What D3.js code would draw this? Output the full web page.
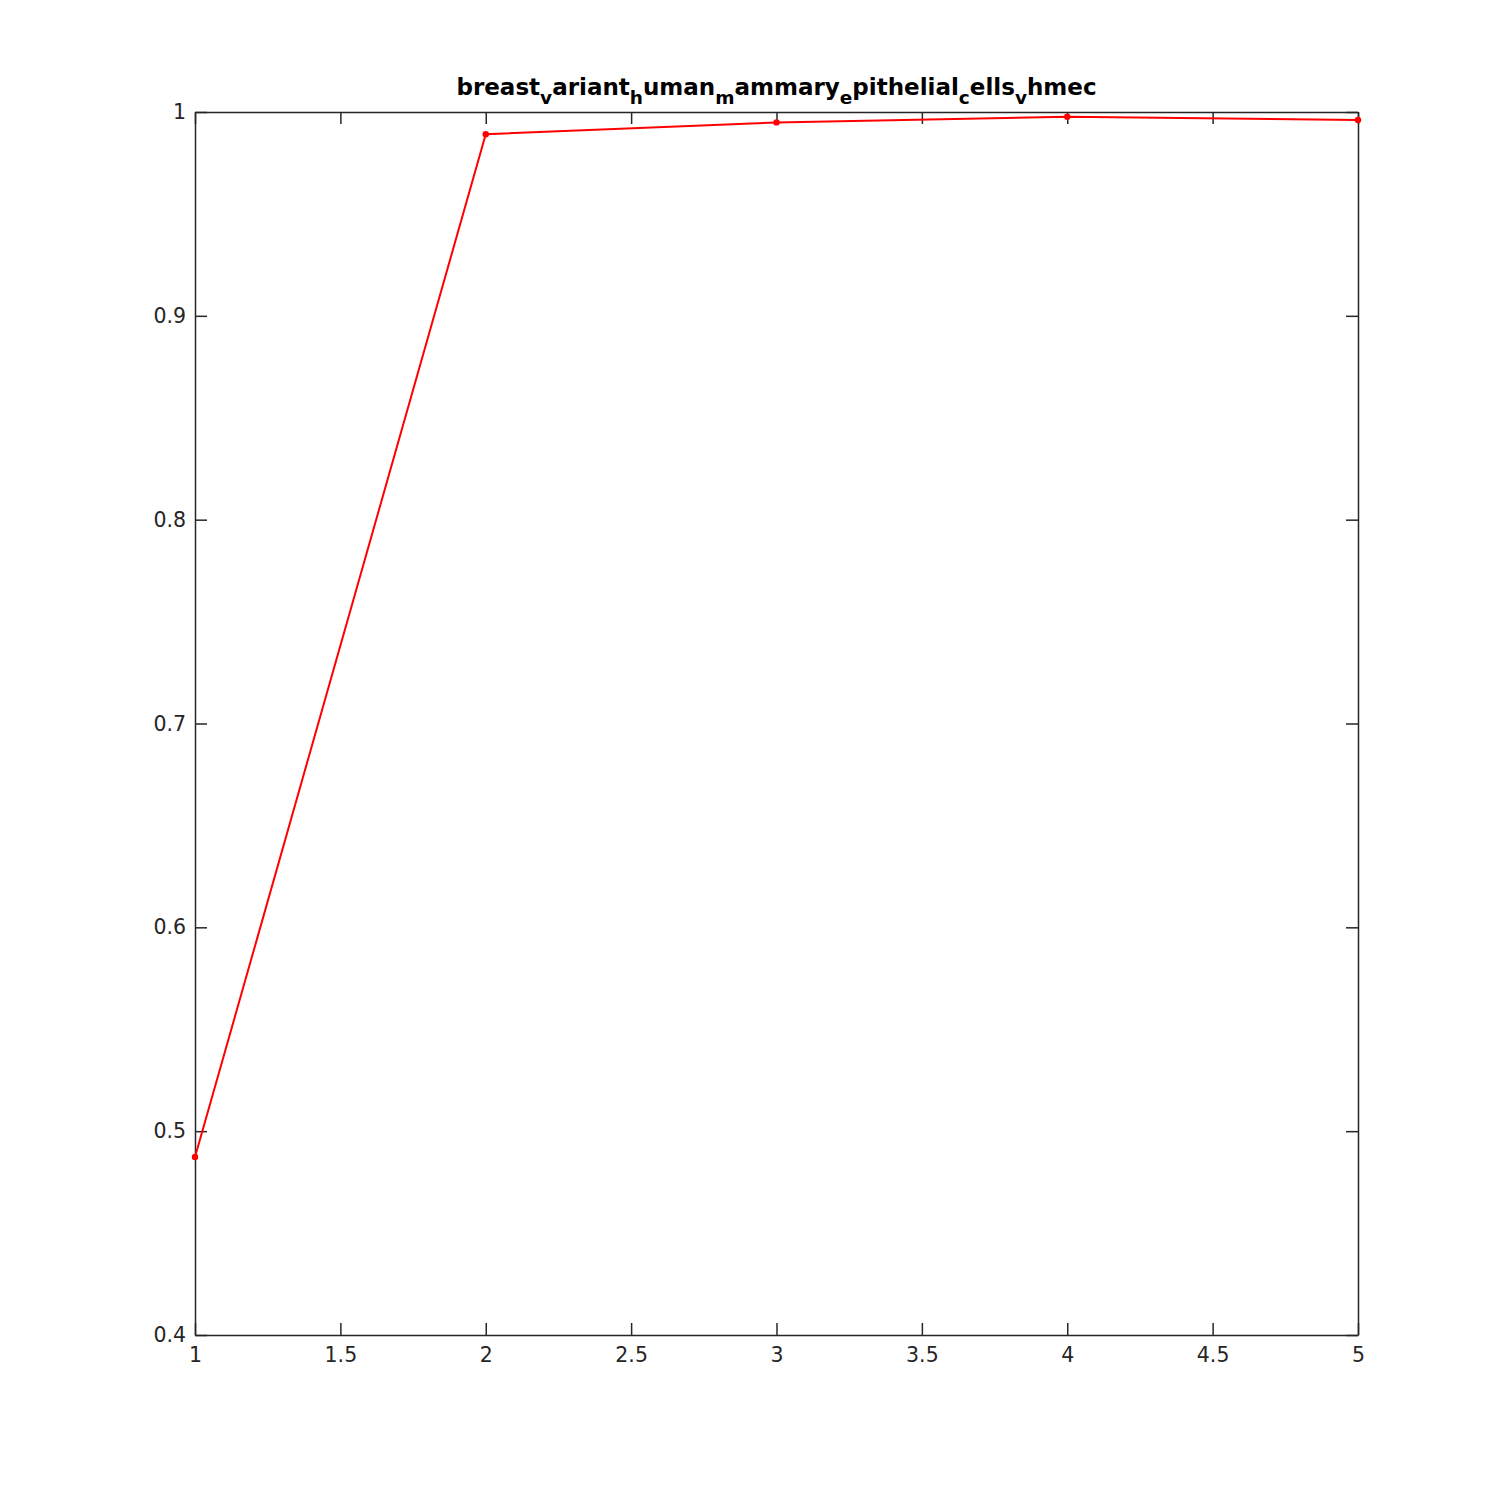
<!DOCTYPE html>
<html lang="en">
<head>
<meta charset="UTF-8" />
<title>breast variant hmec</title>
<script src="https://d3js.org/d3.v7.min.js"></script>
<style>
  body { margin: 0; background: #fff; }
</style>
</head>
<body>
<div id="chart"></div>
<script>
// data
const xValues = [1, 2, 3, 4, 5]
const yValues = [0.4873, 0.9891, 0.9949, 0.9977, 0.9961]
const xTicks = [1, 1.5, 2, 2.5, 3, 3.5, 4, 4.5, 5]
const yTicks = [0.4, 0.5, 0.6, 0.7, 0.8, 0.9, 1]
// title pieces: [text, subscript]
const titleParts = [["breast", "v"], ["ariant", "h"], ["uman", "m"], ["ammary", "e"], ["pithelial", "c"], ["ells", "v"], ["hmec", ""]]

const width = 1500
const height = 1500
const margin = ({ top: 112, right: 142, bottom: 165, left: 195 })
const font = "DejaVu Sans, sans-serif"

const x = d3.scaleLinear()
    .domain([1, 5])
    .range([margin.left, width - margin.right])

const y = d3.scaleLinear()
    .domain([0.4, 1])
    .range([height - margin.bottom, margin.top])

const svg = d3.select("#chart").append("svg")
    .attr("width", width)
    .attr("height", height)
    .attr("font-family", font)

const axisColor = "#262626"
const tickLen = 12

function styleAxis(g) {
    g.attr("font-family", font).attr("font-size", 20.5)
    g.select(".domain").attr("stroke", axisColor).attr("stroke-width", 1.5)
    g.selectAll(".tick line").attr("stroke", axisColor).attr("stroke-width", 1.5)
    g.selectAll(".tick text").attr("fill", axisColor)
}

// bottom axis with labels, ticks pointing inward
svg.append("g")
    .attr("transform", `translate(0,${y(0.4)})`)
    .call(d3.axisBottom(x).tickValues(xTicks).tickFormat(d3.format("")).tickSizeInner(-tickLen).tickSizeOuter(0).tickPadding(12))
    .call(styleAxis)

// top axis, no labels
svg.append("g")
    .attr("transform", `translate(0,${y(1)})`)
    .call(d3.axisTop(x).tickValues(xTicks).tickFormat("").tickSizeInner(-tickLen).tickSizeOuter(0))
    .call(styleAxis)

// left axis with labels
svg.append("g")
    .attr("transform", `translate(${x(1)},0)`)
    .call(d3.axisLeft(y).tickValues(yTicks).tickFormat(d3.format("")).tickSizeInner(-tickLen).tickSizeOuter(0).tickPadding(9))
    .call(styleAxis)

// right axis, no labels
svg.append("g")
    .attr("transform", `translate(${x(5)},0)`)
    .call(d3.axisRight(y).tickValues(yTicks).tickFormat("").tickSizeInner(-tickLen).tickSizeOuter(0))
    .call(styleAxis)

const points = xValues.map((d, i) => ({ x: d, y: yValues[i] }))

const line = d3.line()
    .x(d => x(d.x))
    .y(d => y(d.y))

svg.append("path")
    .datum(points)
    .attr("fill", "none")
    .attr("stroke", "#ff0000")
    .attr("stroke-width", 2)
    .attr("d", line)

svg.append("g")
    .selectAll("circle")
    .data(points)
    .join("circle")
    .attr("cx", d => x(d.x))
    .attr("cy", d => y(d.y))
    .attr("r", 3.2)
    .attr("fill", "#ff0000")

// title with tex-like subscripts
const title = svg.append("text")
    .attr("x", (x(1) + x(5)) / 2)
    .attr("y", 95)
    .attr("text-anchor", "middle")
    .attr("font-weight", "bold")
    .attr("font-size", 23)
    .attr("fill", "#000")

let shift = 0
titleParts.forEach(([main, sub]) => {
    title.append("tspan").attr("dy", -shift).text(main)
    shift = 0
    if (sub) {
        shift = 9
        title.append("tspan").attr("dy", shift).attr("font-size", 18.5).text(sub)
    }
})
</script>
</body>
</html>
